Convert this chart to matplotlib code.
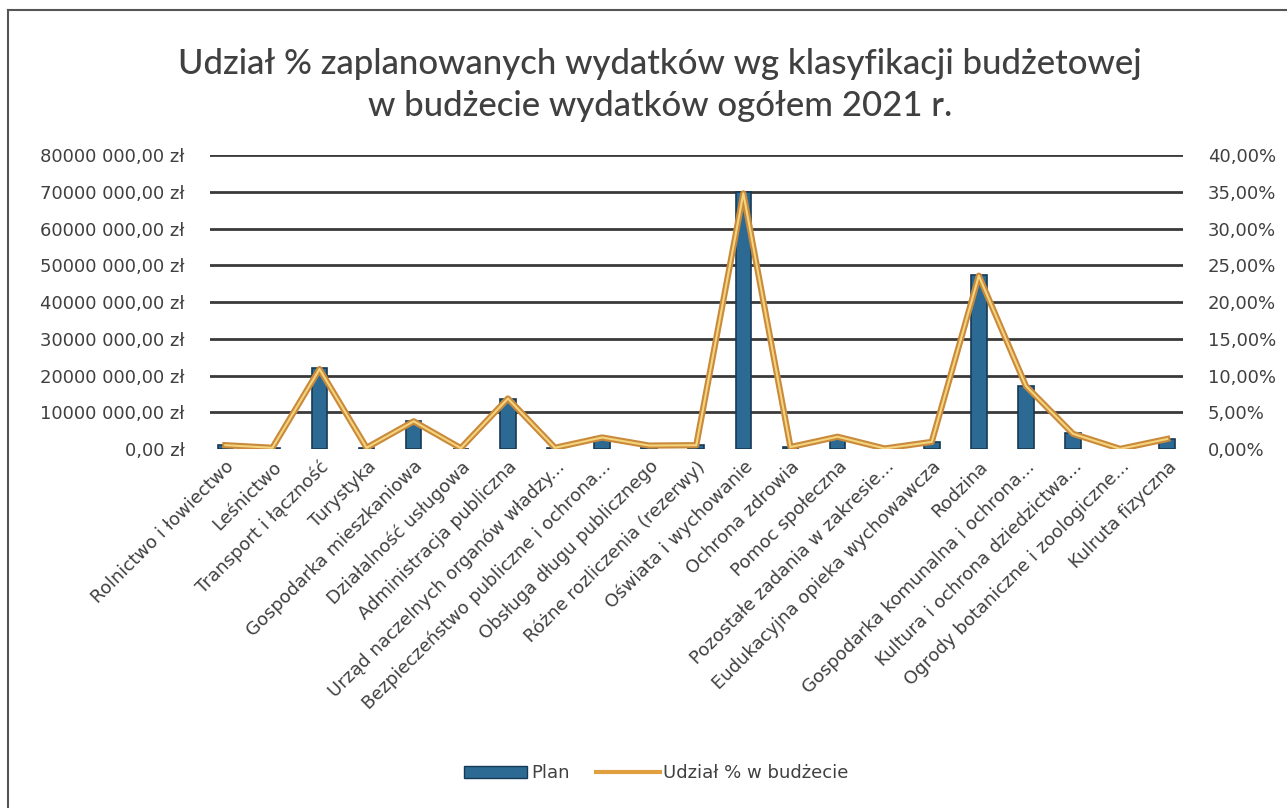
import matplotlib.pyplot as plt
from matplotlib.lines import Line2D
from matplotlib.patches import Patch
from matplotlib.ticker import FuncFormatter

plt.rcParams['font.family'] = ['DejaVu Sans']

# dane
kategorie = ['Rolnictwo i łowiectwo', 'Leśnictwo', 'Transport i łączność', 'Turystyka',
             'Gospodarka mieszkaniowa', 'Działalność usługowa', 'Administracja publiczna',
             'Urząd naczelnych organów władzy...', 'Bezpieczeństwo publiczne i ochrona...',
             'Obsługa długu publicznego', 'Różne rozliczenia (rezerwy)', 'Oświata i wychowanie',
             'Ochrona zdrowia', 'Pomoc społeczna', 'Pozostałe zadania w zakresie...',
             'Eudukacyjna opieka wychowawcza', 'Rodzina', 'Gospodarka komunalna i ochrona...',
             'Kultura i ochrona dziedzictwa...', 'Ogrody botaniczne i zoologiczne...',
             'Kulruta fizyczna']
plan = [1.1e6, 0.3e6, 22.0e6, 0.3e6, 7.6e6, 0.2e6, 13.8e6, 0.3e6, 3.2e6, 1.0e6, 1.1e6,
        70.0e6, 0.6e6, 3.3e6, 0.2e6, 1.9e6, 47.5e6, 17.3e6, 4.4e6, 0.1e6, 2.8e6]
udzial = [0.55, 0.2, 10.9, 0.2, 3.8, 0.15, 6.9, 0.2, 1.6, 0.5, 0.55, 34.8, 0.3, 1.7, 0.1,
          1.0, 23.6, 8.6, 2.1, 0.05, 1.4]

tekst = '#404040'
x = list(range(len(kategorie)))

fig = plt.figure(figsize=(12.87, 8.08), dpi=100)
ax = fig.add_axes([0.163, 0.444, 0.756, 0.364])
ax2 = ax.twinx()

# siatka
for v in range(10000000, 80000001, 10000000):
    ax.axhline(v, color='#3a3a3a', lw=2, zorder=0)

ax.bar(x, plan, width=0.33, color='#2c6a93', edgecolor='#173a55', linewidth=1.2, zorder=2)
ax2.plot(x, udzial, color='#c98a3c', lw=4.5, solid_joinstyle='round', zorder=3)
ax2.plot(x, udzial, color='#f4d47c', lw=1.5, solid_joinstyle='round', zorder=4)

ax.set_xlim(-0.33, 20.33)
ax.set_ylim(0, 80000000)
ax2.set_ylim(0, 40)
ax.set_yticks(range(0, 80000001, 10000000))
ax2.set_yticks(range(0, 41, 5))


def zl(v, pos):
    if v == 0:
        return '0,00 zł'
    return f'{int(v) // 1000:d} 000,00 zł'


ax.yaxis.set_major_formatter(FuncFormatter(zl))
ax2.yaxis.set_major_formatter(FuncFormatter(lambda v, p: f'{v:.2f}%'.replace('.', ',')))

for a in (ax, ax2):
    for s in a.spines.values():
        s.set_visible(False)
    a.tick_params(axis='y', length=0, pad=18, labelsize=13, labelcolor=tekst)

ax.set_xticks(x)
ax.set_xticklabels(kategorie, rotation=45, ha='right', rotation_mode='anchor',
                   fontsize=13, color=tekst)
ax.tick_params(axis='x', length=0, pad=6)

fig.text(0.513, 0.895, 'Udział % zaplanowanych wydatków wg klasyfikacji budżetowej\n'
         'w budżecie wydatków ogółem 2021 r.', ha='center', va='center',
         fontsize=25, color=tekst, family='Lato', fontweight='medium', linespacing=1.4)

uchwyty = [Patch(facecolor='#2c6a93', edgecolor='#173a55'),
           Line2D([0], [0], color='#e0a040', lw=3)]
fig.legend(uchwyty, ['Plan', 'Udział % w budżecie'], loc='center', ncol=2,
           bbox_to_anchor=(0.51, 0.043), frameon=False, fontsize=13,
           labelcolor=tekst, handlelength=3.5, handletextpad=0.2, columnspacing=1.5)

# ramka wykresu
fig.add_artist(Line2D([0.006, 0.006], [0, 0.988], color='#555555', lw=1.5))
fig.add_artist(Line2D([0.006, 1], [0.988, 0.988], color='#555555', lw=1.5))

fig.savefig('out.png', dpi=100)
